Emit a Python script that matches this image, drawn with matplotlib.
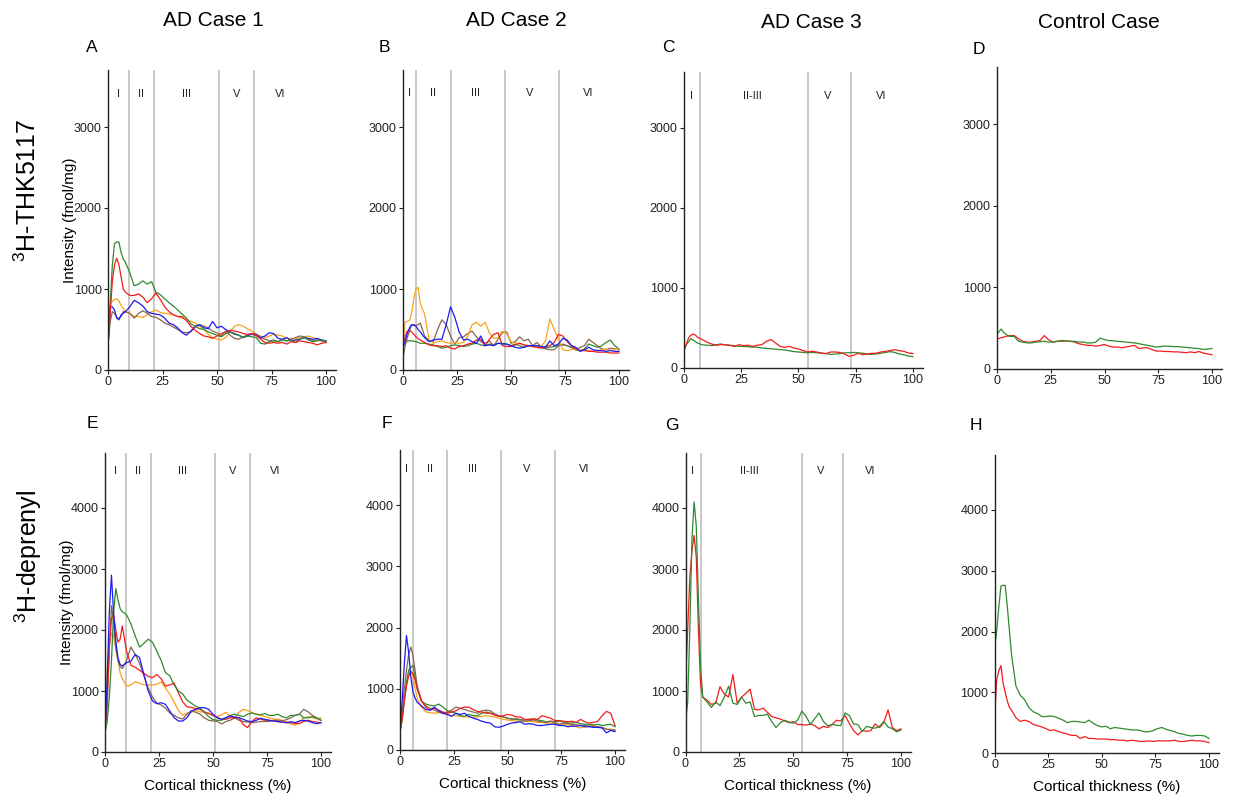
import matplotlib
matplotlib.use("Agg")
import matplotlib.pyplot as plt

plt.rcParams['font.family'] = ['Liberation Sans', 'DejaVu Sans']
plt.rcParams['mathtext.fontset'] = 'custom'
plt.rcParams['mathtext.rm'] = 'Liberation Sans'
plt.rcParams['mathtext.it'] = 'Liberation Sans'

# ---------------- data ----------------
X = [0, 1, 2, 3, 4, 5, 6, 7, 8] + list(range(10, 101, 2))

col_titles = ["AD Case 1", "AD Case 2", "AD Case 3", "Control Case"]
panel_letters = ["A", "B", "C", "D", "E", "F", "G", "H"]
row_labels = ["$^{3}$H-THK5117", "$^{3}$H-deprenyl"]
y_label = "Intensity (fmol/mg)"
x_label = "Cortical thickness (%)"
x_ticks = [0, 25, 50, 75, 100]
y_ticks_top = [0, 1000, 2000, 3000]
y_ticks_bottom = [0, 1000, 2000, 3000, 4000]

# layer boundaries and labels
layers_AE = [9.5, 21.3, 51, 67]
layer_lab_AE = ["I", "II", "III", "V", "VI"]
layer_pos_AE = [4.7, 15.2, 36, 59, 79]
layers_BF = [6, 22, 47, 72]
layer_lab_BF = ["I", "II", "III", "V", "VI"]
layer_pos_BF = [2.8, 13.8, 33.7, 58.7, 85.8]
layers_CG = [7.1, 54, 73]
layer_lab_CG = ["I", "II-III", "V", "VI"]
layer_pos_CG = [3.4, 29.8, 62.8, 85.9]

# Panel A (THK5117, AD case 1)
A_green = [300,800,1300,1560,1580,1580,1450,1370,1330,
           1200,1040,1060,1100,1060,1090,960,930,880,830,790,740,690,640,570,540,510,500,470,450,
           430,410,450,470,440,430,400,420,410,400,330,320,350,360,350,370,360,370,340,380,
           400,370,350,360,370,360]
A_red = [300,700,1100,1300,1380,1300,1150,1000,960,
         920,920,940,900,830,880,950,870,780,720,680,660,660,610,540,490,450,420,410,390,
         420,450,470,490,480,470,450,440,450,430,380,340,330,340,330,340,320,350,340,360,
         350,340,330,310,330,340]
A_orange = [350,820,850,870,880,850,800,760,720,
            700,660,660,650,680,720,740,710,700,690,680,660,640,620,600,580,540,500,440,400,
            380,370,400,470,540,560,540,510,480,440,420,400,420,440,430,420,390,390,380,400,
            410,420,400,380,360,350]
A_blue = [300,780,780,740,640,620,680,700,720,
          780,860,830,790,720,700,690,680,640,580,560,520,460,430,480,540,560,520,510,600,
          520,540,500,470,450,430,400,420,450,440,400,420,460,450,390,380,400,360,370,380,
          400,390,380,390,370,360]
A_brown = [300,600,720,700,650,640,660,720,720,
           700,640,700,730,700,660,650,620,580,560,530,500,470,460,470,530,560,540,520,480,
           460,420,480,430,390,380,410,430,440,420,400,380,360,370,350,380,360,380,400,420,
           410,380,360,370,360,350]

# Panel B (THK5117, AD case 2)
B_orange = [330,590,600,610,700,880,1000,1020,820,
            690,380,330,350,360,340,330,340,330,340,420,560,590,540,590,460,390,400,480,450,
            350,330,330,310,300,290,280,290,360,630,500,380,250,240,250,260,240,250,240,230,
            240,250,260,240,250,260]
B_red = [300,420,480,490,470,440,410,390,370,
         340,310,300,300,290,300,270,260,290,300,320,330,370,380,300,380,440,460,300,290,
         290,310,330,310,300,290,280,270,290,300,340,440,420,350,300,260,240,240,230,230,
         220,220,220,210,210,210]
B_blue = [280,350,450,520,560,550,540,500,470,
          400,350,370,380,380,560,780,650,470,370,380,350,330,420,300,310,300,330,320,320,
          300,280,270,280,300,300,300,290,280,360,300,320,390,370,300,280,230,250,280,250,
          240,240,230,240,230,230]
B_brown = [150,300,400,480,560,560,550,560,580,
           420,360,350,500,620,560,420,320,400,410,450,480,410,350,330,360,300,380,460,470,
           330,350,410,360,380,300,340,280,260,250,250,300,320,300,280,250,280,300,380,340,
           300,260,250,270,260,250]
B_green = [300,330,360,360,360,355,350,340,330,
           330,320,310,290,270,280,300,310,300,290,300,320,330,310,300,320,310,330,330,320,
           300,320,300,280,300,290,300,280,270,280,290,300,310,300,280,250,240,260,320,300,
           280,300,340,370,300,260]

# Panel C (THK5117, AD case 3)
C_red = [230,300,375,410,425,410,383,370,355,
         325,300,283,292,290,283,270,292,280,285,270,285,292,333,355,313,270,258,270,250,
         238,217,200,210,200,187,180,200,200,195,175,146,158,183,167,175,183,185,200,208,
         217,230,217,208,187,180]
C_green = [220,290,330,367,350,330,310,300,290,
           285,280,290,300,290,285,280,270,270,265,260,260,250,245,240,235,230,225,215,205,
           200,195,190,195,190,185,180,170,175,180,190,190,195,190,185,175,170,175,185,195,
           205,195,175,165,150,140]

# Panel D (THK5117, control)
D_red = [370,375,385,390,400,405,410,410,410,
         370,340,330,330,340,350,410,360,330,340,340,345,340,330,310,300,290,290,280,290,
         300,280,270,270,260,270,280,290,250,260,260,240,220,220,215,215,210,210,205,200,
         210,200,215,195,185,175]
D_green = [430,460,490,450,430,410,400,400,400,
           340,330,320,320,330,335,340,330,330,340,350,345,340,340,330,330,320,320,330,380,
           360,350,345,340,335,330,325,320,310,300,290,280,270,275,280,280,275,275,270,265,
           260,255,250,240,245,250]

# Panel E (deprenyl, AD case 1)
E_blue = [340,1200,2300,2900,2257,1820,1546,1437,1410,
          1464,1492,1600,1546,1273,1000,836,792,808,781,672,563,508,508,563,672,700,727,727,700,
          617,563,535,563,590,574,563,535,508,497,520,552,535,520,508,497,490,481,497,481,
          508,520,508,481,464,481]
E_green = [317,500,900,1500,2300,2680,2500,2350,2300,
           2250,2100,1900,1720,1780,1850,1800,1650,1500,1300,1250,1100,1000,950,850,800,750,720,650,580,
           530,520,520,560,600,620,600,580,620,640,620,610,630,600,600,620,580,560,600,600,
           620,560,560,580,560,520]
E_red = [400,900,1700,2200,2240,2000,1800,1850,2066,
         1650,1420,1390,1340,1290,1240,1218,1270,1200,1080,1100,1130,970,820,740,730,710,700,660,630,
         600,560,540,535,560,560,560,450,400,500,560,540,520,520,510,500,490,480,480,470,
         464,500,520,500,490,481]
E_orange = [700,1300,1800,1950,1900,1700,1500,1300,1200,
            1080,1100,1150,1130,1100,1100,1100,1110,1150,1050,950,820,680,600,640,650,680,660,650,640,
            600,580,610,650,580,560,650,700,680,650,620,600,580,560,540,540,520,500,460,440,
            500,560,580,560,540,560]
E_brown = [300,700,1700,2400,2100,1700,1500,1400,1370,
           1500,1720,1600,1450,1250,1050,900,800,770,720,640,600,560,540,620,680,650,620,560,520,
           510,500,460,500,520,560,520,500,490,480,490,500,500,500,520,520,510,530,560,600,
           620,700,660,600,560,520]

# Panel F (deprenyl, AD case 2)
F_blue = [300,800,1400,1870,1600,1200,950,850,780,
          720,660,650,700,640,600,580,550,600,580,600,550,520,500,470,450,440,380,370,390,
          420,440,450,460,420,430,420,400,400,410,420,420,400,400,380,390,390,400,380,380,
          370,370,360,280,320,300]
F_brown = [300,600,1000,1300,1550,1680,1550,1300,1050,
           800,720,680,650,620,600,620,650,700,680,660,640,620,600,640,650,640,590,560,540,
           520,500,510,500,470,480,490,470,460,450,470,450,420,440,430,420,410,400,400,390,
           380,380,370,340,330,320]
F_green = [300,500,800,1100,1300,1350,1380,1200,1000,
           800,750,730,720,750,700,640,620,600,560,550,580,560,560,600,620,600,580,550,540,
           520,510,500,490,490,500,500,490,480,460,470,460,470,460,440,440,450,430,420,420,
           410,420,400,410,420,380]
F_red = [300,500,800,1050,1200,1280,1250,1150,1000,
         800,700,650,680,650,620,600,620,640,680,700,700,660,630,620,600,600,570,550,560,
         580,570,540,540,500,500,510,500,560,540,520,480,480,470,460,470,450,500,460,440,
         450,470,560,630,600,400]
F_orange = [300,500,800,1050,1250,1300,1200,1000,850,
            700,620,610,600,610,600,580,560,560,550,540,540,530,540,550,560,550,540,520,500,
            490,480,470,470,460,470,460,450,450,440,440,430,420,420,410,400,380,360,380,390,
            400,380,360,340,340,330]

# Panel G (deprenyl, AD case 3)
G_red = [1100,2000,2850,3300,3550,3200,2000,1100,900,
         850,780,800,1070,950,900,1270,800,900,960,1030,700,690,720,650,580,560,540,510,480,
         500,450,450,440,460,430,380,420,400,450,520,510,600,470,350,280,350,340,350,460,
         400,480,690,400,350,380]
G_green = [500,800,2000,3500,4100,3700,2500,1400,900,
           820,730,820,760,900,1080,800,780,900,800,820,580,600,600,620,500,400,480,520,490,
           470,520,670,580,450,550,640,500,430,450,440,430,640,600,460,450,340,420,400,390,
           420,500,410,380,330,360]

# Panel H (deprenyl, control)
H_green = [1720,2000,2400,2750,2760,2760,2400,2000,1600,
           1100,950,880,750,680,650,600,600,610,600,570,540,500,520,520,510,500,540,490,450,
           430,440,400,420,410,400,390,380,380,370,350,350,370,400,420,390,370,350,320,310,
           290,280,290,290,280,240]
H_red = [550,1200,1350,1440,1150,1000,850,750,700,
         580,520,540,520,470,450,430,400,370,380,350,330,310,290,290,240,270,240,240,230,
         230,230,220,220,210,210,200,210,200,190,190,200,190,200,200,200,200,210,190,190,
         200,210,200,200,190,170]

# ---------------- styling ----------------
C_GREEN = "#2f8a2f"
C_RED = "#f21c1c"
C_ORANGE = "#f9a21b"
C_BLUE = "#1c1cf2"
C_BROWN = "#8a6450"
LAYER_COLOR = "#c4c4c4"

W, H = 1234, 800
fig = plt.figure(figsize=(W / 100, H / 100), dpi=100)


def make_axes(x0, x100, y0, px_per_1000, ymax):
    xmax = 104.5
    w = (x100 - x0) / 100 * xmax
    h = px_per_1000 * ymax / 1000
    return fig.add_axes([x0 / W, 1 - y0 / H, w / W, h / H]), xmax


panels = [
    ((108, 326, 370, 81.0), 3700, [(A_orange, C_ORANGE), (A_brown, C_BROWN), (A_blue, C_BLUE), (A_green, C_GREEN), (A_red, C_RED)],
     layers_AE, layer_lab_AE, layer_pos_AE, 3410),
    ((403, 619, 370, 81.0), 3700, [(B_green, C_GREEN), (B_brown, C_BROWN), (B_orange, C_ORANGE), (B_red, C_RED), (B_blue, C_BLUE)],
     layers_BF, layer_lab_BF, layer_pos_BF, 3420),
    ((684, 913, 368, 80.0), 3700, [(C_green, C_GREEN), (C_red, C_RED)],
     layers_CG, layer_lab_CG, layer_pos_CG, 3400),
    ((997, 1212, 369, 81.5), 3700, [(D_red, C_RED), (D_green, C_GREEN)],
     [], [], [], 0),
    ((105, 321, 752, 61.0), 4900, [(E_orange, C_ORANGE), (E_brown, C_BROWN), (E_red, C_RED), (E_green, C_GREEN), (E_blue, C_BLUE)],
     layers_AE, layer_lab_AE, layer_pos_AE, 4600),
    ((400, 615, 750, 61.25), 4900, [(F_orange, C_ORANGE), (F_green, C_GREEN), (F_brown, C_BROWN), (F_red, C_RED), (F_blue, C_BLUE)],
     layers_BF, layer_lab_BF, layer_pos_BF, 4590),
    ((685.5, 901, 752, 61.0), 4900, [(G_red, C_RED), (G_green, C_GREEN)],
     layers_CG, layer_lab_CG, layer_pos_CG, 4600),
    ((994.5, 1209, 753, 60.75), 4900, [(H_red, C_RED), (H_green, C_GREEN)],
     [], [], [], 0),
]

for i, (rect, ymax, series, layers, labs, lpos, ly) in enumerate(panels):
    ax, xmax = make_axes(*rect, ymax)
    for xv in layers:
        ax.axvline(xv, color=LAYER_COLOR, lw=1.3, zorder=1)
    for lab, xp in zip(labs, lpos):
        ax.text(xp, ly, lab, ha="center", va="center", fontsize=8, color="#222222")
    for vals, c in series:
        ax.plot(X, vals, color=c, lw=0.9, zorder=2)
    ax.set_xlim(0, xmax)
    ax.set_ylim(0, ymax)
    ax.set_xticks(x_ticks)
    ax.set_yticks(y_ticks_top if i < 4 else y_ticks_bottom)
    for s in ["top", "right"]:
        ax.spines[s].set_visible(False)
    for s in ["left", "bottom"]:
        ax.spines[s].set_linewidth(1.0)
        ax.spines[s].set_color("#222222")
    ax.tick_params(axis="both", length=3, width=0.8, labelsize=9, colors="#222222",
                   pad=1.5)
    if i == 0 or i == 4:
        ax.set_ylabel(y_label, fontsize=11, labelpad=-2)
    if i >= 4:
        ax.set_xlabel(x_label, fontsize=11, labelpad=6)

# column titles
title_pos = [(213, 20), (516, 20), (811, 23), (1099, 23)]
for t, (px, py) in zip(col_titles, title_pos):
    fig.text(px / W, 1 - py / H, t, ha="center", va="center", fontsize=15)

# panel letters
letter_pos = [(92, 48), (384, 48), (668, 48), (979, 49), (92, 424), (387, 424), (672, 426), (976, 426)]
for t, (px, py) in zip(panel_letters, letter_pos):
    fig.text(px / W, 1 - py / H, t, ha="center", va="center", fontsize=12.5)

# row labels
fig.text(28 / W, 1 - 190 / H, row_labels[0], rotation=90, ha="center", va="center", fontsize=18)
fig.text(28 / W, 1 - 556 / H, row_labels[1], rotation=90, ha="center", va="center", fontsize=18)

fig.savefig("out.png", dpi=100)
